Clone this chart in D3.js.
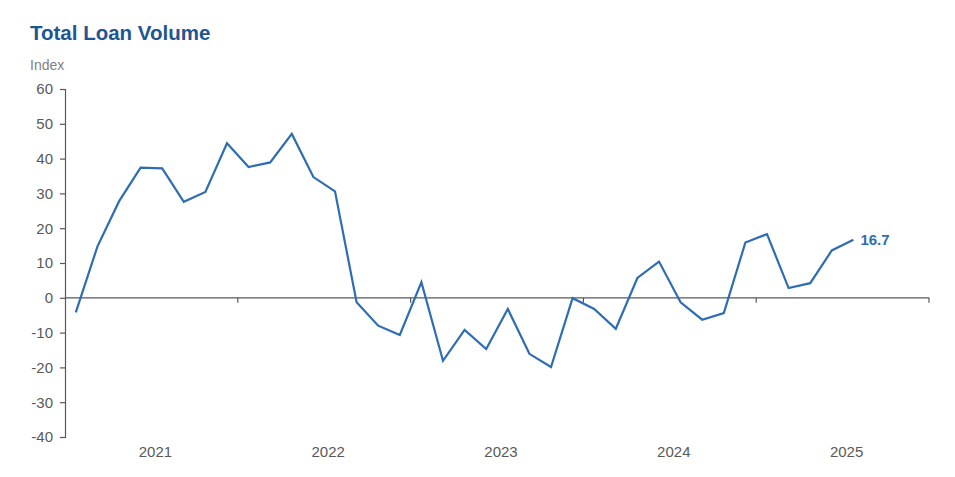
<!DOCTYPE html>
<html>
<head>
<meta charset="utf-8">
<script src="https://cdn.jsdelivr.net/npm/d3@7"></script>
<style>
  body { margin: 0; background: #fff; }
  svg text { font-family: "Liberation Sans", Arial, sans-serif; }
</style>
</head>
<body>
<svg id="chart" width="955" height="477"></svg>
<script>
// survey rounds: 8 per year, the last year only partly filled
var years = [2021, 2022, 2023, 2024, 2025];
var roundsPerYear = 8;
var yTicks = [-40, -30, -20, -10, 0, 10, 20, 30, 40, 50, 60];
var loanVolume = [
  -4.2, 14.7, 27.7, 37.4, 37.2, 27.6, 30.4, 44.4,
  37.6, 38.9, 47.1, 34.7, 30.6, -1.3, -8.0, -10.7,
  4.5, -18.1, -9.2, -14.7, -3.2, -16.1, -19.9, -0.1,
  -3.2, -8.9, 5.7, 10.4, -1.3, -6.3, -4.4, 15.9,
  18.3, 2.8, 4.2, 13.6, 16.7
];

(function() {
  var svg = d3.select('#chart');
  // plot box (note: "top" is a reserved window global, so use other names)
  var pLeft = 65, pRight = 929, pTop = 89, pBottom = 437;
  var axisColor = '#595959';

  var slots = d3.range(years.length * roundsPerYear);
  var x = d3.scaleBand()
    .domain(slots)
    .range([pLeft, pRight])
    .paddingInner(0)
  ;
  var y = d3.scaleLinear()
    .domain([-40, 60])
    .range([pBottom, pTop])
  ;
  var px = function(i) { return x(i) + x.bandwidth() / 2; };

  // title
  svg.append('text')
    .attr('x', 30)
    .attr('y', 40)
    .style('font-size', '20.5px')
    .style('font-weight', 'bold')
    .style('fill', '#1f5591')
    .text('Total Loan Volume')
  ;
  svg.append('text')
    .attr('x', 30)
    .attr('y', 70)
    .style('font-size', '14px')
    .style('fill', '#7f7f7f')
    .text('Index')
  ;

  // y axis, plain hyphen for negatives like the source
  var yAxis = svg.append('g')
    .attr('transform', 'translate(' + pLeft + ',0)')
    .call(d3.axisLeft(y)
      .tickValues(yTicks)
      .tickFormat(function(d) { return String(d); })
      .tickSize(5)
      .tickPadding(7))
  ;
  yAxis.select('.domain').attr('stroke', axisColor).attr('stroke-width', 1.2);
  yAxis.selectAll('.tick line').attr('stroke', axisColor).attr('stroke-width', 1.2);
  yAxis.selectAll('.tick text')
    .style('font-size', '15px')
    .style('fill', axisColor)
    .style('font-family', '"Liberation Sans", Arial, sans-serif')
  ;

  // x axis along zero
  var yearEdges = d3.range(1, years.length + 1).map(function(k) {
    return pLeft + k * roundsPerYear * x.bandwidth();
  });
  svg.append('line')
    .attr('x1', pLeft)
    .attr('x2', pRight)
    .attr('y1', y(0))
    .attr('y2', y(0))
    .attr('stroke', axisColor)
    .attr('stroke-width', 1.2)
  ;
  svg.selectAll('.xtick')
    .data(yearEdges)
    .enter().append('line')
    .attr('class', 'xtick')
    .attr('x1', function(d) { return d; })
    .attr('x2', function(d) { return d; })
    .attr('y1', y(0))
    .attr('y2', y(0) + 5)
    .attr('stroke', axisColor)
    .attr('stroke-width', 1.2)
  ;
  svg.selectAll('.yearlabel')
    .data(years)
    .enter().append('text')
    .attr('class', 'yearlabel')
    .attr('x', function(d, k) {
      return pLeft + (k + 0.5) * roundsPerYear * x.bandwidth() + 4;
    })
    .attr('y', 457)
    .attr('text-anchor', 'middle')
    .style('font-size', '15px')
    .style('fill', axisColor)
    .text(function(d) { return d; })
  ;

  // the series
  var line = d3.line()
    .x(function(d, i) { return px(i); })
    .y(function(d) { return y(d); })
  ;
  svg.append('path')
    .datum(loanVolume)
    .attr('d', line)
    .attr('fill', 'none')
    .attr('stroke', '#2f6db3')
    .attr('stroke-width', 2.2)
  ;

  var lastI = loanVolume.length - 1;
  svg.append('text')
    .attr('x', px(lastI) + 7)
    .attr('y', y(loanVolume[lastI]) + 5)
    .style('font-size', '15px')
    .style('font-weight', 'bold')
    .style('fill', '#2f6db3')
    .text(loanVolume[lastI].toFixed(1))
  ;
})();
</script>
</body>
</html>
